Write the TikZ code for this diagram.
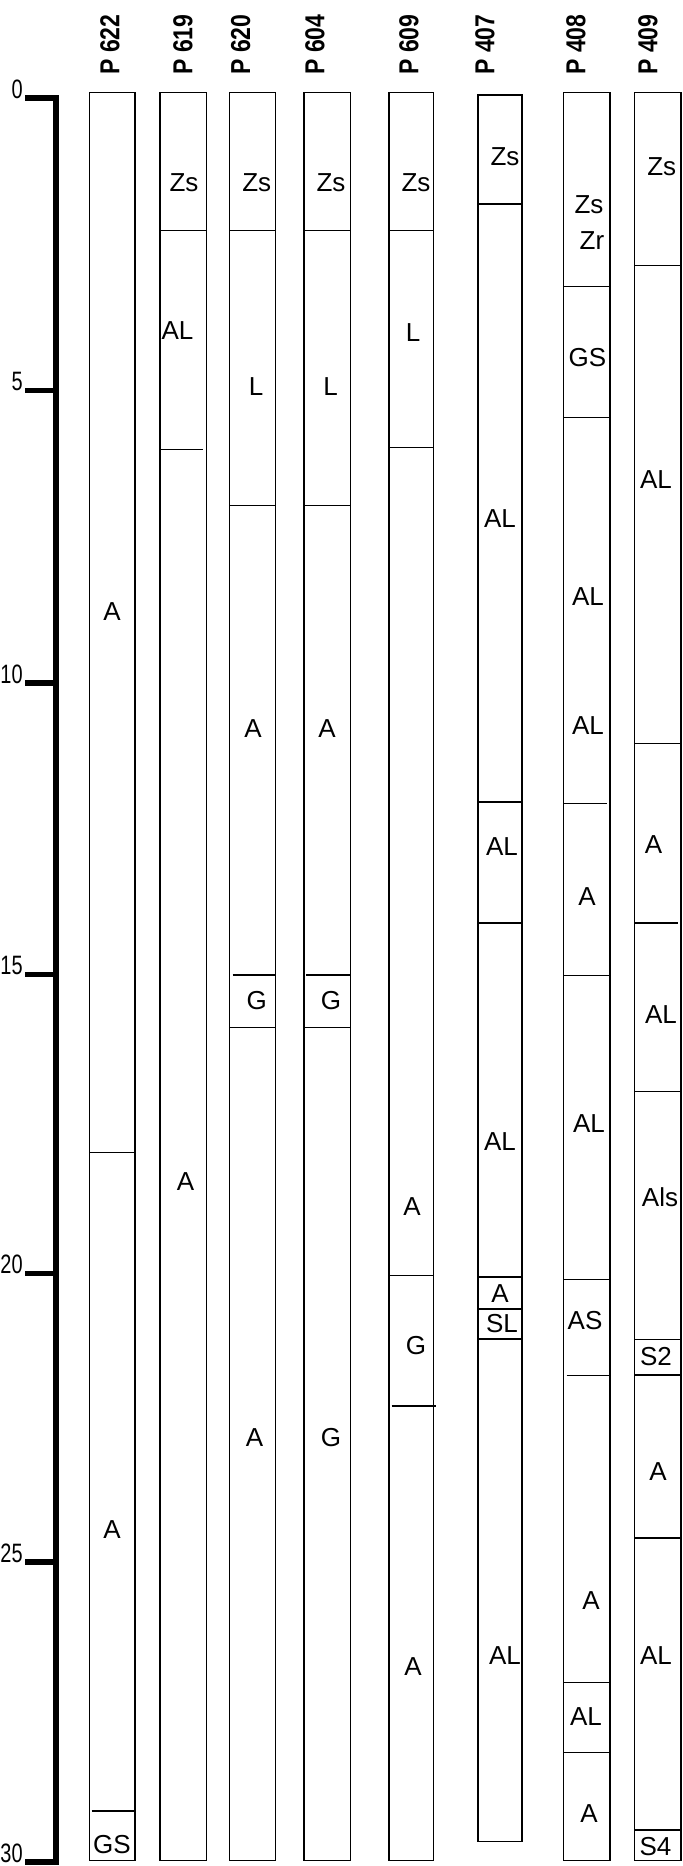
\documentclass[tikz,border=0pt]{standalone}
\usepackage{fontspec}
\setmainfont{Liberation Sans}
\usetikzlibrary{positioning}

\newcommand{\narrow}[2][0.84]{\scalebox{#1}[1]{#2}}

\begin{document}
\begin{tikzpicture}[
        x=0.5pt, y=-0.5pt,
        column/.style={draw, line width=0.7pt},
        layer/.style={line width=0.7pt},
        soil/.style={inner sep=0pt, font=\fontsize{13}{13}\selectfont},
        profile/.style={inner sep=0pt, rotate=90, anchor=west, font=\bfseries\fontsize{13.7}{13.7}\selectfont},
        depth/.style={inner sep=0pt, anchor=south east, font=\fontsize{13.3}{13.3}\selectfont},
        axis/.style={line width=2.6pt}
    ]
        \useasboundingbox (0,0) rectangle (683,1866);

        % depth scale
        \draw[axis] (56,95.4) -- (56,1864.5);
        \foreach \d/\y in {0/98, 5/390.6, 10/683, 15/974.5, 20/1273.3, 25/1561.7, 30/1861.7} {
            \draw[line width=2.8pt] (25,\y) -- (56,\y);
            \node[depth] (d\d) at (23,\y+1) {\narrow[0.75]{\d}};
        }

        % columns: name/left/right/top/bottom/header
        \foreach \p/\l/\r/\t/\b/\h in {622/89.3/135/92.7/1860.7/110, 619/159.9/206.5/92.7/1860.7/183,
                620/229.6/275.7/92.7/1860.7/240.6, 604/304/350.2/92.7/1860.7/315,
                609/389/433.4/92.7/1860.7/409, 407/477.8/521.8/95/1841.6/485,
                408/563.7/609.8/92.7/1860.7/576, 409/634.7/680.8/92.7/1860.7/648} {
            \draw[column] (\l,\t) rectangle (\r,\b);
            \node[profile] (h\p) at (\h,75) {\narrow{P \p}};
        }

        % layer boundaries
        \foreach \l/\r/\ys in {89.3/135/{1152.7}, 91.5/135/{1811},
                159.9/206.5/{230.7}, 159.9/203/{449.3},
                229.6/275.7/{230.7,505.3,1027.7}, 232.7/275.7/{975},
                304/350.2/{230.7,505.3,1027.7}, 306/350.2/{975},
                389/433.4/{230.7,447.7,1275.7}, 391.7/436/{1406},
                477.8/521.8/{204,801.8,923,1277,1309,1339},
                563.7/609.8/{286.6,417.4,975.4,1279.5,1682.7,1752.3}, 563.7/606.7/{803.6}, 566.7/609.8/{1375.4},
                634.7/680.8/{265.6,743.3,1091.5,1339.3,1375,1538,1830}, 634.7/677.7/{923}} {
            \foreach \y in \ys
                \draw[layer] (\l,\y) -- (\r,\y);
        }

        % P 622
        \node[soil] (p622-1) at (112,612) {A};
        \node[soil] (p622-2) at (112,1530) {A};
        \node[soil] (p622-3) at (112,1845) {GS};
        % P 619
        \node[soil] (p619-1) at (184,183) {Zs};
        \node[soil] (p619-2) at (177.5,331) {AL};
        \node[soil] (p619-3) at (185.5,1182) {A};
        % P 620
        \node[soil] (p620-1) at (256.7,183) {Zs};
        \node[soil] (p620-2) at (256,387) {L};
        \node[soil] (p620-3) at (253,729) {A};
        \node[soil] (p620-4) at (256.7,1001) {G};
        \node[soil] (p620-5) at (254.5,1438) {A};
        % P 604
        \node[soil] (p604-1) at (331,183) {Zs};
        \node[soil] (p604-2) at (330.7,387) {L};
        \node[soil] (p604-3) at (327,729) {A};
        \node[soil] (p604-4) at (331,1001) {G};
        \node[soil] (p604-5) at (331,1438) {G};
        % P 609
        \node[soil] (p609-1) at (416,183) {Zs};
        \node[soil] (p609-2) at (413,333) {L};
        \node[soil] (p609-3) at (412,1207) {A};
        \node[soil] (p609-4) at (416,1346) {G};
        \node[soil] (p609-5) at (413,1667) {A};
        % P 407
        \node[soil] (p407-1) at (505,157) {Zs};
        \node[soil] (p407-2) at (500,519) {AL};
        \node[soil] (p407-3) at (502,847) {AL};
        \node[soil] (p407-4) at (500,1142) {AL};
        \node[soil] (p407-5) at (500,1294) {A};
        \node[soil] (p407-6) at (502,1324) {SL};
        \node[soil] (p407-7) at (505,1656) {AL};
        % P 408
        \node[soil] (p408-1) at (589,205) {Zs};
        \node[soil] (p408-2) at (592,241) {Zr};
        \node[soil] (p408-3) at (587.5,358) {GS};
        \node[soil] (p408-4) at (588,597) {AL};
        \node[soil] (p408-5) at (588,726) {AL};
        \node[soil] (p408-6) at (587,897) {A};
        \node[soil] (p408-7) at (589,1124) {AL};
        \node[soil] (p408-8) at (585,1321) {AS};
        \node[soil] (p408-9) at (591,1601) {A};
        \node[soil] (p408-10) at (586,1717) {AL};
        \node[soil] (p408-11) at (589,1814) {A};
        % P 409
        \node[soil] (p409-1) at (661.7,167) {Zs};
        \node[soil] (p409-2) at (656,480) {AL};
        \node[soil] (p409-3) at (653.5,845) {A};
        \node[soil] (p409-4) at (661,1015) {AL};
        \node[soil] (p409-5) at (660,1197) {Als};
        \node[soil] (p409-6) at (656,1357) {S2};
        \node[soil] (p409-7) at (658,1472) {A};
        \node[soil] (p409-8) at (656,1656) {AL};
        \node[soil] (p409-9) at (655.5,1847) {S4};
    \end{tikzpicture}
\end{document}
